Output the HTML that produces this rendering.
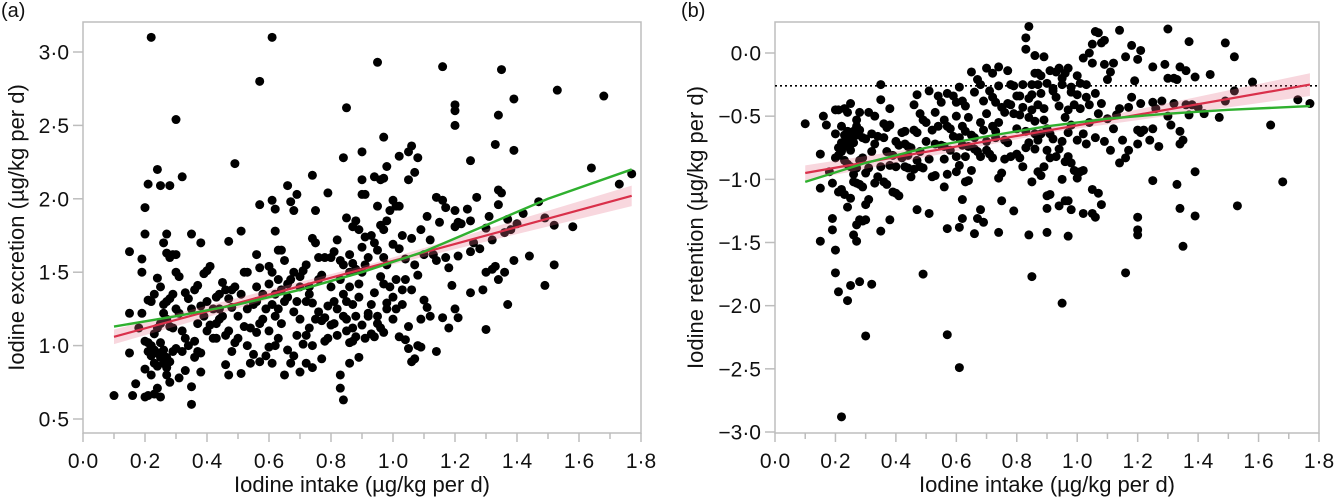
<!DOCTYPE html>
<html><head><meta charset="utf-8"><style>
body{margin:0;background:#fff;}
svg{display:block;font-family:"Liberation Sans",Arial,sans-serif;}
</style></head><body>
<svg id="fig" width="1334" height="500" viewBox="0 0 1334 500"></svg>
<script>
const intake=[0.22,0.61,0.57,0.95,1.16,1.35,0.30,0.85,1.20,1.20,1.20,1.34,1.39,1.53,1.68,0.97,1.33,1.39,0.90,0.84,1.02,1.05,1.06,1.08,1.07,1.25,0.49,0.24,0.32,0.21,0.25,0.28,0.2,0.94,0.96,0.97,0.90,0.98,1.05,1.64,1.73,1.77,
0.57,0.61,0.62,0.66,0.68,0.69,0.67,0.75,0.79,0.74,0.90,0.91,0.95,1.0,1.01,1.02,1.14,1.16,1.17,1.20,1.24,1.27,1.31,1.34,1.34,1.35,1.47,1.42,1.58,1.52,1.49,1.44,1.52,1.49,1.40,1.37,1.38,1.36,1.39,1.36,1.37,
0.20,0.27,0.26,0.35,0.38,0.15,0.19,0.27,0.28,0.29,0.3,0.19,0.15,0.19,0.21,0.23,0.24,0.25,0.22,0.26,0.27,0.28,0.29,0.3,0.31,0.33,0.36,0.37,0.34,0.39,0.41,0.40,0.43,0.45,0.44,0.46,0.47,0.47,0.51,0.48,0.52,0.53,0.55,0.56,0.57,0.60,0.61,0.63,0.62,0.64,0.67,0.68,0.66,0.70,0.71,0.73,0.74,0.75,0.76,0.77,0.78,0.80,0.81,0.82,0.83,0.84,0.85,0.87,0.88,0.89,0.86,0.87,0.90,0.91,0.93,0.94,0.92,0.95,0.96,0.97,0.98,0.99,1.0,1.02,1.03,1.04,1.06,1.07,1.09,1.11,1.12,1.13,1.14,1.15,1.17,1.18,1.20,1.21,1.22,1.21,1.25,1.26,1.25,1.28,1.30,1.32,1.33,1.30,1.34,1.32,1.29,1.30,1.25,1.19,1.18,1.20,1.21,1.16,1.14,1.11,1.12,1.10,1.09,1.08,1.07,1.06,1.05,1.04,1.03,1.02,1.05,1.09,1.06,1.08,1.10,
0.80,0.81,0.82,0.83,0.84,0.85,0.86,0.87,0.88,0.89,0.84,0.85,0.86,0.87,0.88,0.89,0.86,0.83,0.83,0.84,0.81,0.79,0.78,0.79,0.78,0.77,0.76,0.75,0.74,0.73,0.72,0.71,0.70,0.68,0.69,0.68,0.66,0.67,0.65,0.64,0.63,0.62,0.61,0.60,0.60,0.62,0.61,0.63,0.65,0.58,0.58,0.56,0.57,0.56,0.55,0.57,0.54,0.52,0.51,0.50,0.49,0.48,0.47,0.46,0.46,0.47,0.45,0.44,0.43,0.42,0.40,0.39,0.38,0.38,0.37,0.36,0.38,0.35,0.35,0.36,0.34,0.33,0.32,0.31,0.30,0.29,0.28,0.27,0.27,0.26,0.25,0.24,0.23,0.22,0.22,0.21,0.20,0.23,0.24,0.25,0.26,0.27,0.28,0.29,0.28,0.27,0.26,0.25,0.24,0.23,0.21,0.2,0.22,0.24,0.25,0.23,0.20,0.21,0.17,0.16,0.1,0.15,0.18,0.30,0.31,0.32,0.33,0.35,0.37,0.40,0.42,0.41,0.50,0.53,0.54,0.59,0.70,0.72,0.74,0.77,0.90,0.91,0.92,0.93,0.94,0.95,0.96,0.97,0.98,0.99,1.0,1.01,0.90,0.91,0.92,0.93,0.94,0.95,0.96,0.97,0.98,1.0,1.01,1.03,1.04,0.97,0.98,0.86,0.88,0.89,0.72,0.73,0.69,0.66,0.64,0.63,0.59,0.56,0.53,0.51,0.49,0.48,0.44,0.43,0.74,0.80,0.82,0.85,0.87,0.76,0.72,0.70,0.65,0.62,0.60];
const excretion=[3.1,3.1,2.8,2.93,2.9,2.88,2.54,2.62,2.64,2.6,2.5,2.57,2.68,2.74,2.7,2.42,2.37,2.33,2.32,2.28,2.29,2.32,2.36,2.28,2.18,2.26,2.24,2.2,2.15,2.1,2.09,2.09,1.94,2.15,2.13,2.14,2.13,2.22,2.13,2.21,2.1,2.17,
1.96,1.99,1.93,2.09,1.92,2.03,1.98,1.92,2.04,2.16,2.03,2.03,1.95,1.99,1.95,1.95,2.01,1.99,1.94,1.92,1.93,2.01,1.88,1.96,2.06,2.04,1.98,1.9,1.81,1.82,1.87,1.61,1.55,1.41,1.83,1.86,1.79,1.77,1.58,1.5,1.28,
1.76,1.76,1.7,1.76,1.7,1.64,1.59,1.63,1.6,1.62,1.62,1.5,1.22,1.22,1.31,1.35,1.46,1.4,1.3,1.28,1.3,1.32,1.35,1.5,1.47,1.36,1.38,1.41,1.32,1.49,1.54,1.51,1.33,1.43,1.35,1.38,1.32,1.71,1.78,1.26,1.5,1.5,1.28,1.62,1.53,1.54,1.5,1.65,1.78,1.65,1.45,1.5,1.42,1.4,1.51,1.35,1.73,1.7,1.45,1.48,1.6,1.6,1.64,1.72,1.58,1.55,1.87,1.81,1.85,1.79,1.62,1.56,1.67,1.74,1.75,1.7,1.6,1.65,1.82,1.79,1.85,1.92,1.69,1.66,1.75,1.59,1.73,1.55,1.79,1.88,1.72,1.62,1.58,1.84,1.6,1.53,1.81,1.84,1.83,1.61,1.85,1.7,1.64,1.66,1.8,1.72,1.54,1.5,1.45,1.52,1.38,1.11,1.36,1.41,1.12,1.25,1.19,1.19,0.96,1.26,1.2,1.31,1.18,1.0,0.91,0.89,1.13,1.04,1.28,1.06,0.98,0.99,1.38,1.48,1.62,
1.4,1.3,1.25,1.45,1.35,1.3,1.4,1.28,1.2,1.33,1.2,1.1,1.02,1.03,1.06,0.92,0.88,0.8,0.71,0.63,1.15,1.27,1.19,1.05,1.03,1.17,1.23,1.18,1.29,1.12,1.07,1.01,1.18,1.23,1.07,0.93,0.97,0.88,1.3,1.15,1.05,1.2,1.28,1.1,0.99,1.0,0.88,1.25,0.8,1.35,1.18,1.3,1.15,1.09,0.94,0.89,1.12,1.13,0.81,1.05,1.02,0.96,1.1,1.07,0.87,0.8,1.2,1.25,1.05,1.05,1.1,1.2,1.27,0.95,0.96,0.92,0.82,0.72,0.6,1.03,1.0,0.83,0.96,0.78,0.98,0.96,0.89,0.92,0.85,0.97,1.02,0.95,0.97,0.93,1.0,0.96,0.84,0.88,0.86,0.92,0.88,0.8,0.75,1.12,1.13,1.18,1.22,1.15,1.12,1.08,1.02,1.03,0.8,0.71,0.65,0.67,0.65,0.66,0.74,0.66,0.66,0.95,1.12,1.25,1.22,1.1,1.05,1.25,1.15,1.3,1.25,1.14,1.2,1.0,0.88,0.93,0.82,0.88,0.85,0.91,1.14,1.05,1.2,1.28,1.36,1.2,1.47,1.42,1.29,1.4,1.33,1.45,1.5,1.55,1.22,1.08,1.06,1.15,1.12,1.09,1.25,1.18,1.25,1.38,1.45,1.6,1.55,1.5,1.52,1.42,1.3,1.4,1.3,1.33,1.38,1.45,1.25,1.4,1.25,1.35,1.4,1.38,1.18,1.15,1.0,1.14,1.07,1.18,1.12,1.6,1.55,1.47,1.58,1.35,1.42];
const retention=intake.map((v,i)=>+(v-excretion[i]).toFixed(3));
const xTicks=[0,0.2,0.4,0.6,0.8,1.0,1.2,1.4,1.6,1.8];
const xTickLabels=["0·0","0·2","0·4","0·6","0·8","1·0","1·2","1·4","1·6","1·8"];
const yTicksA=[0.5,1.0,1.5,2.0,2.5,3.0];
const yTickLabelsA=["0·5","1·0","1·5","2·0","2·5","3·0"];
const yTicksB=[-3,-2.5,-2,-1.5,-1,-0.5,0];
const yTickLabelsB=["−3·0","−2·5","−2·0","−1·5","−1·0","−0·5","0·0"];
const fitX=[0.1,1.77];
const fitA=[1.06,2.02];
const fitB=[-0.95,-0.25];
const bandA=[0.05,0.02,0.07];
const bandB=[0.06,0.02,0.09];
const smoothX=[0.1,0.3,0.5,0.7,0.9,1.1,1.3,1.5,1.77];
const smoothA=[1.13,1.2,1.28,1.38,1.5,1.64,1.82,2.0,2.2];
const smoothB=[-1.02,-0.87,-0.75,-0.66,-0.58,-0.52,-0.48,-0.45,-0.42];
const refLineB=-0.26;

const NS="http://www.w3.org/2000/svg";
const svg=document.getElementById('fig');
function mk(tag,attrs,parent){const e=document.createElementNS(NS,tag);for(const k in attrs)e.setAttribute(k,attrs[k]);(parent||svg).appendChild(e);return e;}

function panel(cfg){
  const g=mk('g',{});
  
  
  const L=cfg.left,R=cfg.right,T=22,B=433;
  const sx=v=>L+(v-0)/(1.8)*(R-L);
  const sy=v=>cfg.y0px+(v-cfg.y0)*(cfg.y1px-cfg.y0px)/(cfg.y1-cfg.y0);
  const frame=mk('rect',{x:L,y:T,width:R-L,height:B-T,fill:'none',stroke:'#bdbdbd','stroke-width':1.5},g);
  
  
  for(let i=0;i<=18;i++){
    const v=i/10,x=sx(v),maj=i%2===0;
    const t=mk('line',{x1:x,x2:x,y1:B,y2:B+(maj?9:6),stroke:'#bdbdbd','stroke-width':1.5},g);
    
    
  }
  xTicks.forEach((v,i)=>{
    const t=mk('text',{x:sx(v),y:468,'font-size':21,'text-anchor':'middle',fill:'#111'},g);
    t.textContent=xTickLabels[i];
    
    
  });
  cfg.yt.forEach((v,i)=>{
    const y=sy(v);
    const t=mk('line',{x1:L-10,x2:L,y1:y,y2:y,stroke:'#bdbdbd','stroke-width':1.5},g);
    
    
    const lb=mk('text',{x:L-14,y:y+7.5,'font-size':21,'text-anchor':'end',fill:'#111'},g);
    lb.textContent=cfg.ytl[i];
    
    
  });
  if(cfg.ref!==undefined){
    const r=mk('line',{x1:L,x2:R,y1:sy(cfg.ref),y2:sy(cfg.ref),stroke:'#000','stroke-width':1.6,'stroke-dasharray':'2,3'},g);
    
    
  }
  cfg.xs.forEach((v,i)=>{
    const c=mk('circle',{cx:sx(v),cy:sy(cfg.ys[i]),r:4.5,fill:'#000'},g);
    
    
  });
  const xm=(fitX[0]+fitX[1])/2;
  const f=x=>cfg.fit[0]+(x-fitX[0])*(cfg.fit[1]-cfg.fit[0])/(fitX[1]-fitX[0]);
  const bx=[fitX[0],xm,fitX[1]];
  const up=bx.map((x,i)=>sx(x)+','+sy(f(x)+cfg.band[i])).join(' ');
  const dn=bx.slice().reverse().map((x,i)=>sx(x)+','+sy(f(x)-cfg.band[2-i])).join(' ');
  const band=mk('polygon',{points:up+' '+dn,fill:'rgba(230,110,135,0.28)'},g);
  
  
  const red=mk('line',{x1:sx(fitX[0]),y1:sy(cfg.fit[0]),x2:sx(fitX[1]),y2:sy(cfg.fit[1]),stroke:'#d9304a','stroke-width':2.2},g);
  
  
  const gr=mk('polyline',{points:smoothX.map((x,i)=>sx(x)+','+sy(cfg.smooth[i])).join(' '),fill:'none',stroke:'#2fb02f','stroke-width':2.4},g);
  
  
  const pl=mk('text',{x:cfg.plx,y:17,'font-size':20,fill:'#111'},g);
  pl.textContent=cfg.pl;
  
  
  const xt=mk('text',{x:(L+R)/2,y:492,'font-size':22,'text-anchor':'middle',fill:'#111'},g);
  xt.textContent='Iodine intake (µg/kg per d)';
  
  
  const yt=mk('text',{x:0,y:0,'font-size':22,'text-anchor':'middle',fill:'#111',transform:`translate(${cfg.ytx},${(T+B)/2}) rotate(-90)`},g);
  yt.textContent=cfg.ytitle;
  
  
}
panel({name:'panel-a-excretion',left:83,right:641,y0:0.5,y1:3.0,y0px:419,y1px:52,yt:yTicksA,ytl:yTickLabelsA,xs:intake,ys:excretion,fit:fitA,band:bandA,smooth:smoothA,pl:'(a)',plx:1,ytx:24,ytitle:'Iodine excretion (µg/kg per d)'});
panel({name:'panel-b-retention',left:775,right:1319,y0:-3,y1:0,y0px:432,y1px:53,yt:yTicksB,ytl:yTickLabelsB,xs:intake,ys:retention,fit:fitB,band:bandB,smooth:smoothB,ref:refLineB,pl:'(b)',plx:681,ytx:703,ytitle:'Iodine retention (µg/kg per d)'});
</script>
</body></html>
